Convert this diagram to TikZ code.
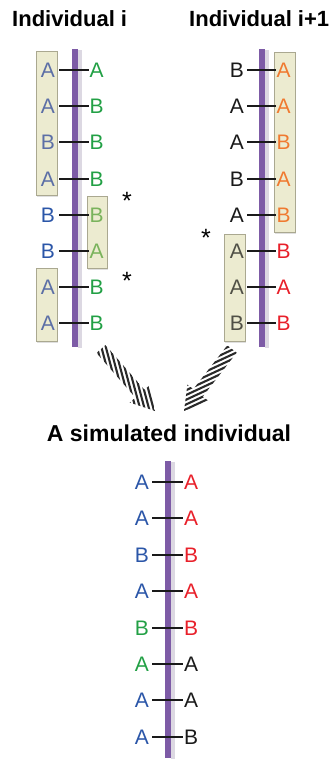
\documentclass[tikz,border=0pt]{standalone}
\usepackage{fontspec}
\setmainfont{Liberation Sans}
\usetikzlibrary{calc,shadows}
\definecolor{barcol}{HTML}{7D5BA6}
\definecolor{barshadow}{HTML}{DCD8E2}
\definecolor{cblue}{HTML}{2B56A8}
\definecolor{cbluebox}{HTML}{5C6FA6}
\definecolor{cgreen}{HTML}{22A045}
\definecolor{cgreenbox}{HTML}{7AB35C}
\definecolor{cred}{HTML}{E8202A}
\definecolor{corange}{HTML}{F07A30}
\definecolor{cblack}{HTML}{1A1A1A}
\definecolor{cblackbox}{HTML}{505046}
\definecolor{boxfill}{HTML}{ECEBD0}
\definecolor{boxline}{HTML}{AAA890}
\definecolor{stripecol}{HTML}{2A2A2A}
\newcommand{\hatcharrow}[3]{%
  \coordinate (nk) at ($(#2)!23pt!(#1)$);
  \begin{scope}
    \clip ($(#1)!6pt!90:(#2)$) -- ($(nk)!6pt!90:(#2)$) -- ($(nk)!13.5pt!90:(#2)$) -- (#2)
      -- ($(nk)!13.5pt!-90:(#2)$) -- ($(nk)!6pt!-90:(#2)$) -- ($(#1)!6pt!-90:(#2)$) -- cycle;
    \begin{scope}[shift={($(#1)!0.5!(#2)$)}, rotate=#3]
      \foreach \s in {-22,...,22} \draw[line width=2.1pt, stripecol] (-80pt,\s*4.3pt) -- (80pt,\s*4.3pt);
    \end{scope}
  \end{scope}}
\begin{document}
\begin{tikzpicture}[x=1pt,y=-1pt,
  letter/.style={inner sep=0pt, font=\fontsize{21}{21}\selectfont},
  star/.style={inner sep=0pt, font=\fontsize{25}{25}\selectfont},
  title/.style={inner sep=0pt, font=\fontsize{22}{22}\selectfont\bfseries},
  tick/.style={line width=1.8pt, cblack},
  allelebox/.style={fill=boxfill, draw=boxline, line width=0.6pt, drop shadow={shadow xshift=1.2pt, shadow yshift=-1.5pt, opacity=0.25}},
  chromshadow/.style={fill=barshadow, draw=none},
  chrom/.style={fill=barcol, draw=none}]
\useasboundingbox (0,0) rectangle (334,760);

% titles
\node[title, anchor=base west] (ti) at (12,27) {Individual i};
\node[title, anchor=base west] (tj) at (189,27) {Individual i+1};
\node[title, anchor=base, font=\fontsize{23}{23}\selectfont\bfseries] (ts) at (169,441) {A simulated individual};

% boxes
\path[allelebox] (36,51) rectangle (57,195);
\path[allelebox] (87,196) rectangle (107,268);
\path[allelebox] (36,268) rectangle (57,341);
\path[allelebox] (274,52) rectangle (295,232);
\path[allelebox] (224,234) rectangle (245,341);

% chromosome bars
\path[chromshadow] (78,50) rectangle (82,348);
\path[chrom] (72,49) rectangle (78,347);
\path[chromshadow] (265,50) rectangle (269,348);
\path[chrom] (259,49) rectangle (265,347);
\path[chromshadow] (171,462) rectangle (175,759);
\path[chrom] (165,461) rectangle (171,758);

% individual i
\foreach \k/\y/\a/\ca/\b/\cb in {1/70/A/cbluebox/A/cgreen, 2/106/A/cbluebox/B/cgreen, 3/142/B/cbluebox/B/cgreen,
  4/179/A/cbluebox/B/cgreen, 5/215/B/cblue/B/cgreenbox, 6/251/B/cblue/A/cgreenbox, 7/287/A/cbluebox/B/cgreen, 8/323/A/cbluebox/B/cgreen} {
  \node[letter, anchor=east, text=\ca] (Li\k) at (55,\y) {\a};
  \node[letter, anchor=west, text=\cb] (Ri\k) at (89.5,\y) {\b};
  \draw[tick] ([xshift=4pt]Li\k.east) -- ([xshift=-1pt]Ri\k.west);
}
% individual i+1
\foreach \k/\y/\a/\ca/\b/\cb in {1/70/B/cblack/A/corange, 2/106/A/cblack/A/corange, 3/142/A/cblack/B/corange,
  4/179/B/cblack/A/corange, 5/215/A/cblack/B/corange, 6/251/A/cblackbox/B/cred, 7/287/A/cblackbox/A/cred, 8/323/B/cblackbox/B/cred} {
  \node[letter, anchor=east, text=\ca] (Lj\k) at (244,\y) {\a};
  \node[letter, anchor=west, text=\cb] (Rj\k) at (276.5,\y) {\b};
  \draw[tick] ([xshift=3pt]Lj\k.east) -- ([xshift=-1pt]Rj\k.west);
}
% simulated individual
\foreach \k/\y/\a/\ca/\b/\cb in {1/482/A/cblue/A/cred, 2/518/A/cblue/A/cred, 3/555/B/cblue/B/cred,
  4/591/A/cblue/A/cred, 5/628/B/cgreen/B/cred, 6/664/A/cgreen/A/cblack, 7/700/A/cblue/A/cblack, 8/737/A/cblue/B/cblack} {
  \node[letter, anchor=east, text=\ca] (Ls\k) at (149,\y) {\a};
  \node[letter, anchor=west, text=\cb] (Rs\k) at (184,\y) {\b};
  \draw[tick] ([xshift=3pt]Ls\k.east) -- ([xshift=-1pt]Rs\k.west);
}

% asterisks
\node[star, anchor=base] (st1) at (127,209) {*};
\node[star, anchor=base] (st2) at (127,289) {*};
\node[star, anchor=base] (st3) at (206,246) {*};

% hatched arrows
\coordinate (a1t) at (101,349);
\coordinate (a1h) at (155,411);
\coordinate (a2t) at (232,349);
\coordinate (a2h) at (184,411);
\hatcharrow{a1t}{a1h}{-75}
\hatcharrow{a2t}{a2h}{25}
\end{tikzpicture}
\end{document}
